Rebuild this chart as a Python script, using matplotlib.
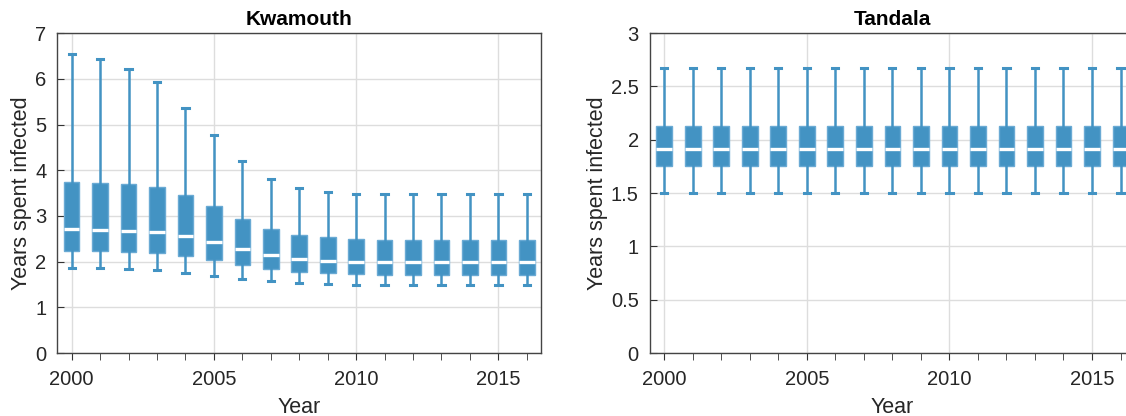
import matplotlib.pyplot as plt
from matplotlib.ticker import MultipleLocator, FormatStrFormatter

plt.rcParams['font.family'] = ['Liberation Sans', 'DejaVu Sans']

# --- data ---
years = list(range(2000, 2017))

kw_whislo = [1.85, 1.85, 1.83, 1.82, 1.76, 1.69, 1.63, 1.57, 1.53, 1.50,
             1.49, 1.49, 1.49, 1.49, 1.49, 1.49, 1.49]
kw_q1 = [2.24, 2.23, 2.22, 2.18, 2.13, 2.04, 1.93, 1.83, 1.77, 1.74,
         1.72, 1.71, 1.71, 1.71, 1.71, 1.71, 1.71]
kw_med = [2.71, 2.70, 2.68, 2.65, 2.57, 2.44, 2.28, 2.14, 2.06, 2.02,
          2.00, 1.99, 1.99, 1.99, 1.99, 1.99, 1.99]
kw_q3 = [3.74, 3.72, 3.69, 3.63, 3.45, 3.22, 2.94, 2.71, 2.59, 2.53,
         2.49, 2.48, 2.48, 2.48, 2.48, 2.48, 2.48]
kw_whishi = [6.54, 6.43, 6.22, 5.93, 5.36, 4.76, 4.20, 3.81, 3.61, 3.52,
             3.49, 3.48, 3.48, 3.48, 3.48, 3.48, 3.48]

ta_whislo = [1.50] * 17
ta_q1 = [1.75] * 17
ta_med = [1.915] * 17
ta_q3 = [2.13] * 17
ta_whishi = [2.67] * 17

BLUE = '#4393c3'
EDGE = '#6aaad4'


def make_stats(lo, q1, med, q3, hi):
    return [dict(whislo=a, q1=b, med=c, q3=d, whishi=e, fliers=[])
            for a, b, c, d, e in zip(lo, q1, med, q3, hi)]


fig = plt.figure(figsize=(11.26, 4.16), dpi=100)
ax1 = fig.add_axes([0.051, 0.1514, 0.4295, 0.769])
ax2 = fig.add_axes([0.5772, 0.1514, 0.4306, 0.769])

panels = [
    (ax1, make_stats(kw_whislo, kw_q1, kw_med, kw_q3, kw_whishi), 'Kwamouth', 7, 1),
    (ax2, make_stats(ta_whislo, ta_q1, ta_med, ta_q3, ta_whishi), 'Tandala', 3, 0.5),
]

for ax, stats, title, ymax, ystep in panels:
    ax.bxp(stats, positions=years, widths=0.55, patch_artist=True,
           showfliers=False, manage_ticks=False,
           boxprops=dict(facecolor=BLUE, edgecolor=EDGE, linewidth=1),
           medianprops=dict(color='white', linewidth=2.4),
           whiskerprops=dict(color=BLUE, linewidth=1.8),
           capprops=dict(color=BLUE, linewidth=2.2),
           capwidths=0.22)
    ax.set_xlim(1999.5, 2016.5)
    ax.set_ylim(0, ymax)
    ax.xaxis.set_major_locator(MultipleLocator(5))
    ax.xaxis.set_minor_locator(MultipleLocator(1))
    ax.yaxis.set_major_locator(MultipleLocator(ystep))
    ax.yaxis.set_major_formatter(FormatStrFormatter('%g'))
    ax.grid(True, which='major', color='#dddddd', linewidth=1)
    ax.set_axisbelow(True)
    ax.tick_params(axis='x', which='both', direction='out', length=5,
                   color='#333333', labelsize=14.5, labelcolor='#262626', pad=7)
    ax.tick_params(axis='y', direction='in', length=5, color='#333333',
                   labelsize=14.5, labelcolor='#262626', pad=8)
    for sp in ax.spines.values():
        sp.set_color('#444444')
        sp.set_linewidth(1)
    ax.set_title(title, fontsize=15, fontweight='bold', pad=6)
    ax.set_xlabel('Year', fontsize=15.5, color='#262626', labelpad=6)
    ax.set_ylabel('Years spent infected', fontsize=15.5, color='#262626', labelpad=2)

fig.savefig('out.png', dpi=100)
